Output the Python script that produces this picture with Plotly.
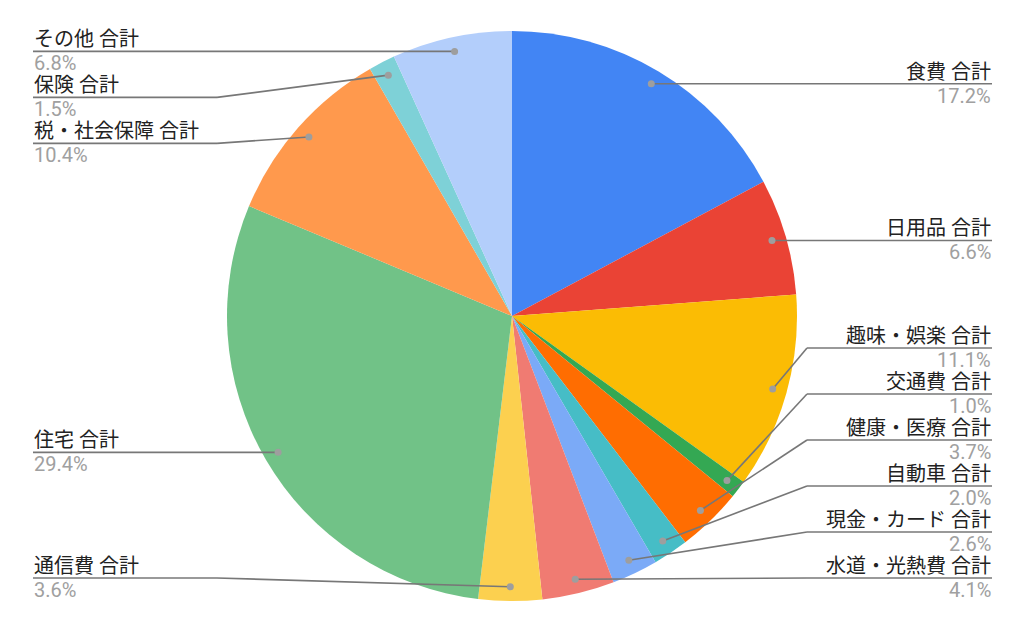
import numpy as np
import plotly.graph_objects as go

# 家計の支出内訳（時計回り、12時の位置から）
categories = ["食費 合計", "日用品 合計", "趣味・娯楽 合計", "交通費 合計", "健康・医療 合計",
              "自動車 合計", "現金・カード 合計", "水道・光熱費 合計", "通信費 合計", "住宅 合計",
              "税・社会保障 合計", "保険 合計", "その他 合計"]
shares = [17.2, 6.6, 11.1, 1.0, 3.7, 2.0, 2.6, 4.1, 3.6, 29.4, 10.4, 1.5, 6.8]

colors = ["#4285F4", "#EA4335", "#FBBC04", "#34A853", "#FF6D01", "#46BDC6", "#7BAAF7",
          "#F07B72", "#FCD04F", "#71C287", "#FF994D", "#7ED1D7", "#B3CEFB"]

# ページ本文の余白 8px を差し引いて画面全体に合わせる
OFF = 8
VW, VH = 1024, 633
W, H = VW - OFF, VH - OFF
CX, CY, R = 512, 316, 285
DOT_R = 0.95 * R
BEND_R = R + 10
RIGHT_EDGE, LEFT_EDGE = 992, 33
GAP, TOP, BOTTOM = 46, 30, 578


def px(x):
    return (x - OFF) / W


def py(y):
    return 1 - (y - OFF) / H


fig = go.Figure(go.Pie(
    labels=categories, values=shares, sort=False, direction="clockwise",
    marker=dict(colors=colors, line=dict(width=0)),
    textinfo="none", hoverinfo="label+percent", showlegend=False,
    domain=dict(x=[px(CX - R), px(CX + R)], y=[py(CY + R), py(CY - R)]),
))

# 各スライスの中心角とリーダー線の起点
total = sum(shares)
cum = np.cumsum([0] + shares[:-1])
mids = [(c + v / 2) / total * 2 * np.pi for c, v in zip(cum, shares)]
dots = [(CX + DOT_R * np.sin(a), CY - DOT_R * np.cos(a)) for a in mids]
sides = ["right" if np.sin(a) >= 0 else "left" for a in mids]

# ラベル位置の重なり回避
label_y = {}
for side in ["right", "left"]:
    idx = sorted([i for i in range(len(shares)) if sides[i] == side], key=lambda i: dots[i][1])
    ys = [dots[i][1] for i in idx]
    for k in range(len(ys)):
        ys[k] = max(ys[k], TOP if k == 0 else ys[k - 1] + GAP)
    for k in range(len(ys) - 1, -1, -1):
        ys[k] = min(ys[k], BOTTOM if k == len(ys) - 1 else ys[k + 1] - GAP)
    for i, y in zip(idx, ys):
        label_y[i] = y

shapes, annotations = [], []
for i, name in enumerate(categories):
    dx, dy = dots[i]
    ly = label_y[i]
    if sides[i] == "right":
        bx, ex, anchor = CX + BEND_R, RIGHT_EDGE, "right"
    else:
        bx, ex, anchor = CX - BEND_R, LEFT_EDGE, "left"
    line = dict(color="#777777", width=1.6)
    shapes.append(dict(type="line", xref="paper", yref="paper",
                       x0=px(dx), y0=py(dy), x1=px(bx), y1=py(ly), line=line, layer="above"))
    shapes.append(dict(type="line", xref="paper", yref="paper",
                       x0=px(bx), y0=py(ly), x1=px(ex), y1=py(ly), line=line, layer="above"))
    shapes.append(dict(type="circle", xref="paper", yref="paper",
                       x0=px(dx - 3.5), x1=px(dx + 3.5), y0=py(dy + 3.5), y1=py(dy - 3.5),
                       fillcolor="#9E9E9E", line=dict(width=0), layer="above"))
    annotations.append(dict(x=px(ex), y=py(ly), xref="paper", yref="paper", text=name,
                            showarrow=False, xanchor=anchor, yanchor="bottom", yshift=-1,
                            borderpad=0,
                            font=dict(family="Roboto, Noto Sans CJK JP", size=20,
                                      color="#222222")))
    annotations.append(dict(x=px(ex), y=py(ly), xref="paper", yref="paper",
                            text=f"{shares[i]:.1f}%", showarrow=False, xanchor=anchor,
                            yanchor="top", yshift=1, borderpad=0,
                            font=dict(family="Roboto", size=20, color="#A0A0A0")))

fig.update_layout(
    width=W, height=H, margin=dict(l=0, r=0, t=0, b=0),
    paper_bgcolor="white", plot_bgcolor="white",
    shapes=shapes, annotations=annotations,
)

fig.write_html("out.html")
